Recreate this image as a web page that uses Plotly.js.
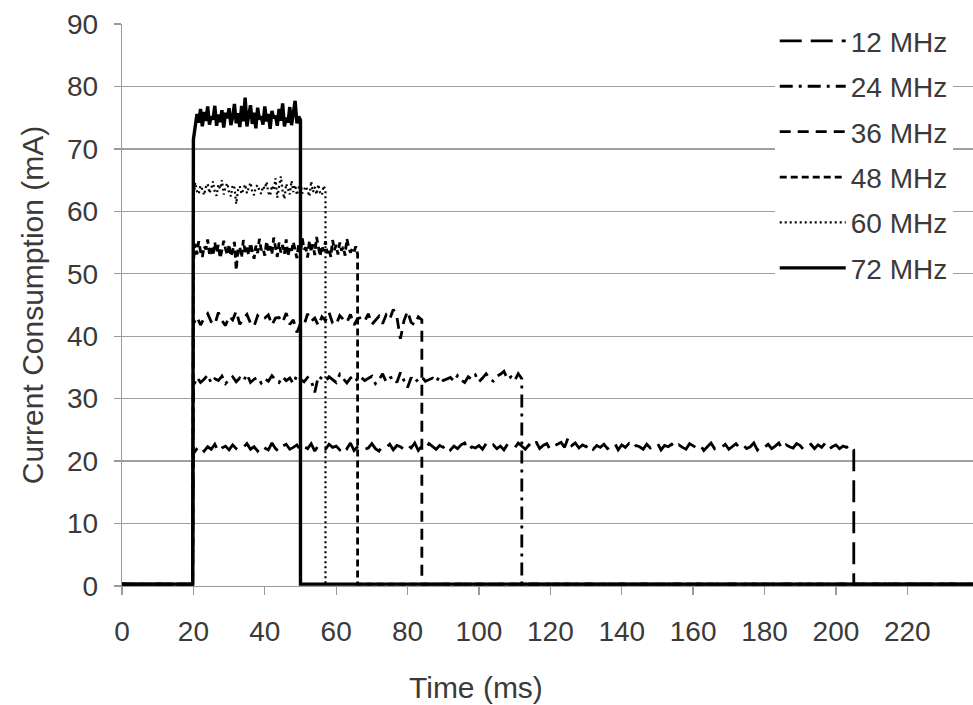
<!DOCTYPE html>
<html>
<head>
<meta charset="utf-8">
<script src="https://cdn.plot.ly/plotly-3.0.1.min.js"></script>
<style>html,body{margin:0;padding:0;background:#fff;}#chart{width:973px;height:705px;}</style>
</head>
<body>
<div id="chart"></div>
<script>
// ---- data ----
const seriesNames = ["12 MHz", "24 MHz", "36 MHz", "48 MHz", "60 MHz", "72 MHz"];
const baselineLevel = 0.3;          // idle current (mA)
const riseTime = 19.8;              // ms, all series start at ~20 ms
const plateauStart = 20;            // ms
const axisEnd = 238.4;              // ms
const sampleStep = [1, 1, 1, 0.5, 0.5, 0.5]; // ms between readings
const endTimes = [205, 112, 84, 66, 57, 50]; // ms, last reading before drop

const v12 = [21.2,22.0,22.5,21.6,22.3,21.9,22.7,21.5,22.1,22.4,
  21.8,22.6,22.0,21.7,22.2,22.8,21.9,22.3,21.6,22.5,
  22.1,21.8,22.9,22.0,21.5,22.4,22.7,21.9,22.2,22.6,
  21.7,22.3,22.0,22.8,21.6,22.5,22.1,21.9,22.7,22.2,
  22.4,21.8,22.6,22.0,22.9,21.7,22.3,22.5,21.9,22.1,
  22.8,22.0,21.6,22.4,22.2,22.7,21.8,22.5,22.3,21.9,
  22.6,22.1,22.9,21.7,22.4,22.0,22.8,22.3,21.9,22.5,
  22.2,22.7,21.8,22.4,22.0,22.6,22.9,21.7,22.3,22.1,
  22.5,21.9,22.8,22.2,22.6,22.0,22.4,21.8,22.7,22.3,
  22.1,22.9,22.4,21.9,22.6,22.2,23.1,22.0,22.5,22.8,
  21.8,22.4,22.7,23.0,22.2,23.8,22.5,22.9,22.1,22.6,
  22.3,22.8,21.9,22.5,22.2,22.7,22.0,22.4,22.9,21.8,
  22.6,22.2,22.8,22.0,22.5,22.3,21.9,22.7,22.1,22.4,
  22.9,21.8,22.5,22.3,22.7,22.0,22.6,22.2,21.9,22.8,
  22.4,22.1,22.6,21.7,22.3,22.9,22.0,22.5,22.2,22.7,
  21.9,22.4,22.8,22.1,22.6,22.0,22.3,22.9,21.8,22.5,
  22.2,22.7,22.0,22.4,22.9,21.9,22.6,22.3,22.1,22.8,
  22.5,21.8,22.4,22.7,22.0,22.6,22.2,22.9,21.9,22.3,
  22.6,22.0,22.4,22.2,22.7,21.8];
const v24 = [32.0,33.4,32.6,33.1,33.8,32.5,33.2,32.9,33.6,32.4,
  33.0,33.5,32.7,33.3,32.8,33.9,32.6,33.1,33.4,32.5,
  33.2,32.8,33.7,33.0,32.6,33.5,32.9,33.3,32.4,33.8,
  33.1,32.7,33.4,32.9,31.0,33.6,33.2,32.8,33.5,33.0,
  32.6,33.9,33.1,32.5,33.3,33.7,32.8,33.4,32.9,33.2,
  33.6,32.4,33.0,34.0,32.7,33.3,33.5,32.6,34.2,32.9,
  31.8,33.4,32.6,33.1,33.5,32.8,33.0,33.3,32.7,33.6,
  32.9,33.2,33.4,32.8,33.7,33.0,32.6,33.5,33.1,33.8,
  32.7,33.3,34.0,33.2,32.8,33.6,33.9,34.4,33.1,33.5,
  32.9,34.0,33.2];
const v36 = [42.0,43.1,41.8,42.9,43.6,42.3,41.9,43.8,42.5,41.7,
  43.2,42.6,44.0,41.9,42.8,43.5,42.1,41.6,43.3,42.7,
  42.9,43.4,41.8,42.9,43.0,42.2,43.7,41.9,42.6,40.6,
  42.0,41.8,43.6,42.4,42.9,41.7,43.1,42.5,43.8,42.1,
  41.9,43.3,42.7,42.2,43.5,41.8,42.8,43.0,42.4,43.6,
  41.9,42.6,43.2,42.0,43.4,42.7,44.3,43.1,39.6,42.5,
  44.0,42.2,41.8,43.1,42.6];
const v48 = [52.0,54.8,53.1,55.2,53.6,52.7,54.4,53.9,55.5,53.2,
  54.1,52.9,55.0,53.4,54.6,52.5,53.8,55.3,54.0,53.0,
  54.7,52.8,53.6,55.1,50.6,53.9,54.3,52.6,55.4,53.5,
  54.2,53.0,54.9,53.7,52.4,54.5,53.3,55.6,53.8,54.1,
  52.9,55.2,53.6,54.4,53.1,55.8,54.0,52.7,55.0,53.4,
  54.6,53.2,55.5,52.8,54.3,53.7,55.1,54.0,52.5,54.8,
  53.3,55.7,53.9,54.2,52.6,55.3,53.5,54.7,53.0,55.9,
  54.1,52.8,54.5,53.6,55.2,53.3,54.0,52.7,55.4,53.8,
  54.6,53.1,55.0,53.7,54.3,52.9,55.6,54.2,53.4,54.0,
  53.5,54.4,53.2];
const v60 = [62.0,64.6,63.2,62.8,64.1,63.5,62.6,63.9,64.4,62.9,
  63.7,64.8,63.1,62.5,64.3,63.6,65.0,62.7,63.9,64.5,
  63.0,62.4,64.2,63.8,61.2,63.4,64.0,62.8,63.5,64.3,
  62.9,63.7,64.6,63.1,62.6,63.9,64.2,63.3,62.8,64.0,
  63.6,64.7,63.0,62.5,64.1,63.4,65.3,62.2,63.8,65.6,
  63.2,62.0,64.4,63.5,62.7,64.9,63.1,64.2,62.6,63.8,
  64.5,62.9,63.6,64.0,63.3,62.4,64.8,63.1,63.9,62.7,
  64.3,63.0,62.6,64.1,63.4];
const v72 = [71.5,73.8,75.6,74.2,76.4,73.6,75.9,74.5,76.8,73.9,
  75.2,74.7,76.9,73.7,75.5,74.3,76.2,73.4,75.8,74.9,
  76.5,73.8,75.1,77.2,74.1,75.7,73.5,76.9,74.4,78.2,
  73.6,75.4,77.0,74.0,75.8,73.3,76.6,74.7,75.2,73.9,
  76.8,74.4,75.6,73.2,76.1,74.9,75.3,73.7,76.4,74.5,
  77.3,73.6,75.0,74.2,76.7,73.8,75.4,77.7,74.1,75.2,
  74.6];
const allValues = [v12, v24, v36, v48, v60, v72];

// ---- styles ----
const dashes = ["22px,9px", "13px,6px,3px,6px", "11px,7px", "7px,4px", "2px,3px", "solid"];
const widths = [2.8, 2.8, 2.8, 2.8, 2.2, 3.4];

function buildTrace(k) {
  const vals = allValues[k];
  const step = sampleStep[k];
  const x = [0, riseTime];
  const y = [baselineLevel, baselineLevel];
  for (let i = 0; i < vals.length; i++) {
    x.push(plateauStart + i * step);
    y.push(vals[i]);
  }
  const lastX = x[x.length - 1];
  x.push(lastX, axisEnd);
  y.push(baselineLevel, baselineLevel);
  return {
    type: "scatter", mode: "lines", name: seriesNames[k],
    legendgroup: "g" + k,
    x: x, y: y,
    line: {color: "#000000", width: widths[k], dash: dashes[k]},
    hoverinfo: "skip"
  };
}
const traces = seriesNames.map((_, k) => buildTrace(k));

const font = {family: "Liberation Sans, Arial, sans-serif", size: 28, color: "#3a3a3a"};
const titleFont = {family: font.family, size: 30, color: "#3a3a3a"};
const layout = {
  width: 973, height: 705,
  margin: {l: 122, r: 0, t: 24, b: 119, pad: 0},
  paper_bgcolor: "#ffffff", plot_bgcolor: "#ffffff",
  font: font,
  showlegend: true,
  legend: {
    x: 0.767, xanchor: "left", y: 1.014, yanchor: "top",
    bgcolor: "#ffffff", borderwidth: 0,
    font: {family: font.family, size: 28, color: "#3a3a3a"},
    tracegroupgap: 6, itemwidth: 66, traceorder: "grouped"
  },
  xaxis: {
    range: [0, axisEnd], tick0: 0, dtick: 20,
    showgrid: false, zeroline: false,
    showline: true, linecolor: "#9a9a9a", linewidth: 1.3,
    ticks: "outside", ticklen: 8, tickcolor: "#9a9a9a", tickwidth: 1.3,
    ticklabelstandoff: 12,
    tickfont: font
  },
  yaxis: {
    range: [0, 90], tick0: 0, dtick: 10,
    showgrid: true, gridcolor: "#a0a0a0", gridwidth: 1.3,
    zeroline: false,
    showline: true, linecolor: "#9a9a9a", linewidth: 1.3,
    ticks: "outside", ticklen: 7, tickcolor: "#9a9a9a", tickwidth: 1.3,
    ticklabelstandoff: 10,
    tickfont: font,
    title: {text: "Current Consumption (mA)", font: titleFont, standoff: 14}
  },
  annotations: [{
    text: "Time (ms)", xref: "paper", yref: "paper",
    x: (476 - 122) / 851, y: -0.18, xanchor: "center", yanchor: "middle",
    showarrow: false, font: titleFont
  }]
};
Plotly.newPlot("chart", traces, layout, {displayModeBar: false, staticPlot: true});
</script>
</body>
</html>
